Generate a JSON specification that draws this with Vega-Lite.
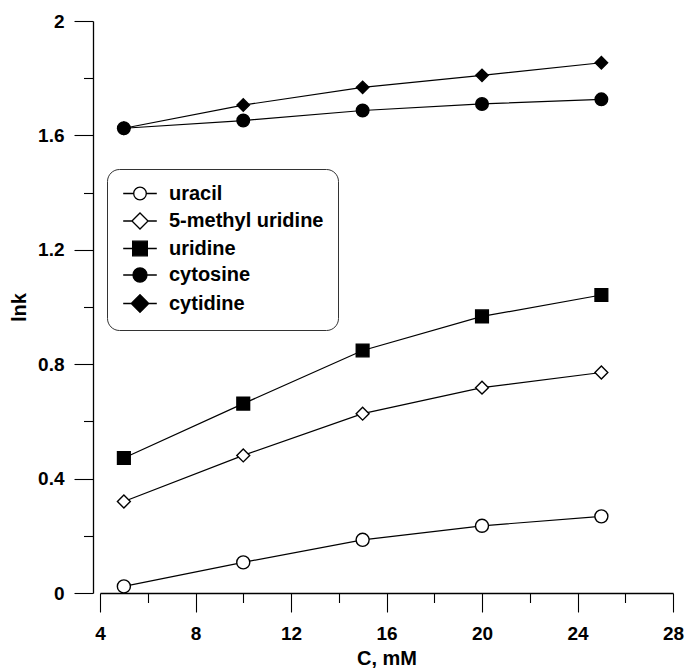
{
  "$schema": "https://vega.github.io/schema/vega-lite/v6.json",
  "width": 573,
  "height": 572,
  "autosize": {"type": "none"},
  "padding": {"left": 100, "top": 21, "right": 14, "bottom": 76},
  "config": {
    "view": {"stroke": null},
    "font": "Liberation Sans",
    "axis": {
      "domainColor": "black",
      "domainWidth": 1.3,
      "tickColor": "black",
      "tickWidth": 1.1,
      "labelColor": "black",
      "labelFont": "Liberation Sans",
      "labelFontSize": 19,
      "labelFontWeight": "bold",
      "titleColor": "black",
      "titleFont": "Liberation Sans",
      "titleFontSize": 20,
      "titleFontWeight": "bold",
      "grid": false,
      "labelOverlap": false,
      "labelFlush": false
    }
  },
  "data": {
    "values": [
      {"series": "uracil", "C": 5, "lnk": 0.023},
      {"series": "uracil", "C": 10, "lnk": 0.107},
      {"series": "uracil", "C": 15, "lnk": 0.186},
      {"series": "uracil", "C": 20, "lnk": 0.235},
      {"series": "uracil", "C": 25, "lnk": 0.268},
      {"series": "5-methyl uridine", "C": 5, "lnk": 0.320},
      {"series": "5-methyl uridine", "C": 10, "lnk": 0.481},
      {"series": "5-methyl uridine", "C": 15, "lnk": 0.627},
      {"series": "5-methyl uridine", "C": 20, "lnk": 0.718},
      {"series": "5-methyl uridine", "C": 25, "lnk": 0.771},
      {"series": "uridine", "C": 5, "lnk": 0.472},
      {"series": "uridine", "C": 10, "lnk": 0.662},
      {"series": "uridine", "C": 15, "lnk": 0.848},
      {"series": "uridine", "C": 20, "lnk": 0.967},
      {"series": "uridine", "C": 25, "lnk": 1.042},
      {"series": "cytosine", "C": 5, "lnk": 1.625},
      {"series": "cytosine", "C": 10, "lnk": 1.652},
      {"series": "cytosine", "C": 15, "lnk": 1.687},
      {"series": "cytosine", "C": 20, "lnk": 1.710},
      {"series": "cytosine", "C": 25, "lnk": 1.726},
      {"series": "cytidine", "C": 5, "lnk": 1.625},
      {"series": "cytidine", "C": 10, "lnk": 1.706},
      {"series": "cytidine", "C": 15, "lnk": 1.768},
      {"series": "cytidine", "C": 20, "lnk": 1.810},
      {"series": "cytidine", "C": 25, "lnk": 1.854}
    ]
  },
  "encoding": {
    "x": {
      "field": "C",
      "type": "quantitative",
      "scale": {"domain": [4, 28], "nice": false, "zero": false}
    },
    "y": {
      "field": "lnk",
      "type": "quantitative",
      "scale": {"domain": [0, 2], "nice": false, "zero": false}
    }
  },
  "layer": [
    {
      "mark": {"type": "line", "stroke": "black", "strokeWidth": 1.2},
      "encoding": {
        "x": {
          "field": "C", "type": "quantitative",
          "axis": {
            "orient": "bottom",
            "title": "C, mM",
            "values": [4, 8, 12, 16, 20, 24, 28],
            "tickSize": 19,
            "labelPadding": 12,
            "titlePadding": 5,
            "offset": 0
          }
        },
        "y": {
          "field": "lnk", "type": "quantitative",
          "axis": {
            "orient": "left",
            "title": "lnk",
            "values": [0, 0.4, 0.8, 1.2, 1.6, 2],
            "format": ".1~f",
            "tickSize": 19,
            "labelPadding": 10,
            "titlePadding": 8,
            "offset": 7
          }
        },
        "detail": {"field": "series", "type": "nominal"},
        "order": {"field": "C", "type": "quantitative"}
      }
    },
    {
      "mark": {"type": "point", "stroke": "black", "strokeWidth": 1.4, "opacity": 1, "fillOpacity": 1},
      "encoding": {
        "x": {
          "field": "C", "type": "quantitative",
          "axis": {
            "orient": "bottom",
            "title": null,
            "values": [6, 10, 14, 18, 22, 26],
            "labels": false,
            "domain": false,
            "tickSize": 9.5,
            "offset": 0
          }
        },
        "y": {
          "field": "lnk", "type": "quantitative",
          "axis": {
            "orient": "left",
            "title": null,
            "values": [0.2, 0.6, 1, 1.4, 1.8],
            "labels": false,
            "domain": false,
            "tickSize": 9.5,
            "offset": 7
          }
        },
        "shape": {
          "field": "series", "type": "nominal",
          "scale": {"domain": ["uracil", "5-methyl uridine", "uridine", "cytosine", "cytidine"], "range": ["circle", "diamond", "square", "circle", "diamond"]},
          "legend": null
        },
        "fill": {
          "field": "series", "type": "nominal",
          "scale": {"domain": ["uracil", "5-methyl uridine", "uridine", "cytosine", "cytidine"], "range": ["white", "white", "black", "black", "black"]},
          "legend": null
        },
        "size": {
          "field": "series", "type": "nominal",
          "scale": {"domain": ["uracil", "5-methyl uridine", "uridine", "cytosine", "cytidine"], "range": [170, 155, 235, 195, 190]},
          "legend": null
        }
      }
    },
    {
      "transform": [{"filter": {"field": "C", "lt": 0}}],
      "mark": {"type": "point", "stroke": "black", "strokeWidth": 1.3, "opacity": 1, "fillOpacity": 1, "size": 196},
      "encoding": {
        "x": {"field": "C", "type": "quantitative", "axis": null},
        "y": {"field": "lnk", "type": "quantitative", "axis": null},
        "shape": {
          "field": "series", "type": "nominal",
          "scale": {
            "domain": ["uracil", "5-methyl uridine", "uridine", "cytosine", "cytidine"],
            "range": [
              "M-2.4,0H-0.9M0.9,0H2.4M0.9,0A0.9,0.9,0,1,1,-0.9,0A0.9,0.9,0,1,1,0.9,0Z",
              "M-2.4,0H-1.15M1.15,0H2.4M-1.15,0L0,-1.15L1.15,0L0,1.15Z",
              "M-2.4,0H-1.05M1.05,0H2.4M-1.05,-1.05H1.05V1.05H-1.05Z",
              "M-2.4,0H-1M1,0H2.4M1,0A1,1,0,1,1,-1,0A1,1,0,1,1,1,0Z",
              "M-2.4,0H-1.25M1.25,0H2.4M-1.25,0L0,-1.25L1.25,0L0,1.25Z"
            ]
          },
          "legend": {
            "title": null, "orient": "none", "legendX": 7, "legendY": 148,
            "direction": "vertical", "padding": 14.5, "cornerRadius": 12,
            "strokeColor": "#333333", "fillColor": "white",
            "labelFontSize": 20, "labelFontWeight": "bold", "labelFont": "Liberation Sans",
            "labelColor": "black", "labelOffset": 19, "rowPadding": 6.5, "labelLimit": 400,
            "symbolSize": 196, "symbolOffset": 8.5,
            "symbolStrokeWidth": 1.3, "symbolOpacity": 1
          }
        },
        "fill": {
          "field": "series", "type": "nominal",
          "scale": {"domain": ["uracil", "5-methyl uridine", "uridine", "cytosine", "cytidine"], "range": ["white", "white", "black", "black", "black"]},
          "legend": {
            "title": null, "orient": "none", "legendX": 7, "legendY": 148,
            "direction": "vertical", "padding": 14.5, "cornerRadius": 12,
            "strokeColor": "#333333", "fillColor": "white",
            "labelFontSize": 20, "labelFontWeight": "bold", "labelFont": "Liberation Sans",
            "labelColor": "black", "labelOffset": 19, "rowPadding": 6.5, "labelLimit": 400,
            "symbolSize": 196, "symbolOffset": 8.5,
            "symbolStrokeWidth": 1.3, "symbolOpacity": 1
          }
        }
      }
    }
  ],
  "resolve": {
    "scale": {"shape": "independent", "fill": "independent", "size": "independent"},
    "legend": {"shape": "independent", "fill": "independent"},
    "axis": {"x": "independent", "y": "independent"}
  }
}
